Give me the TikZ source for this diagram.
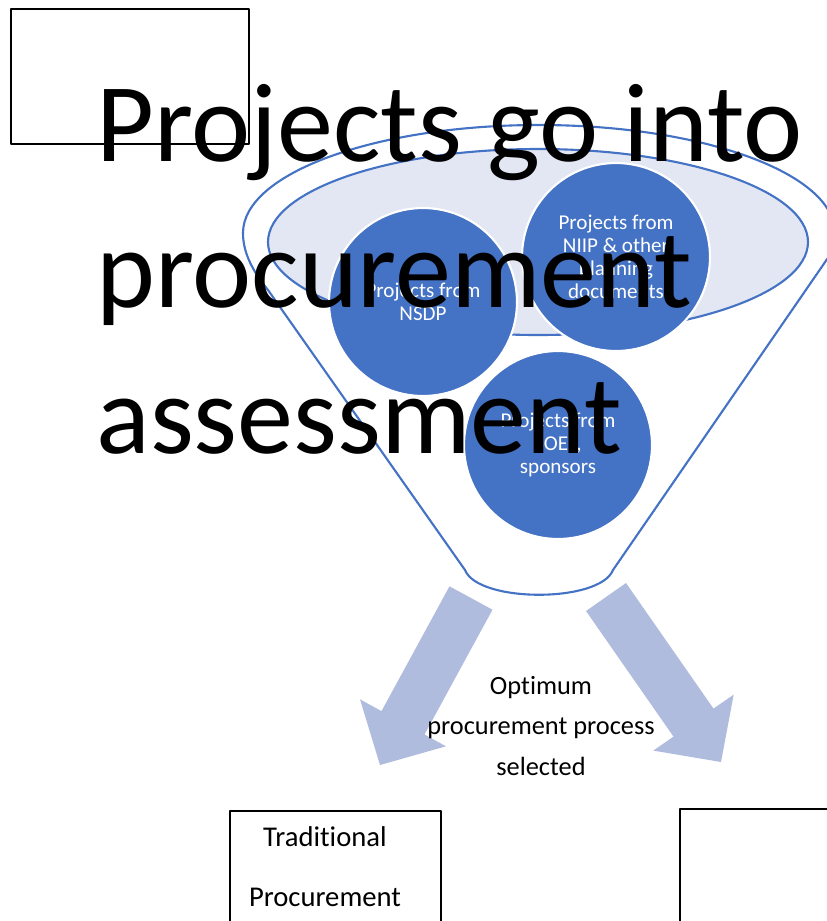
\documentclass[tikz,border=0pt]{standalone}
\usepackage{fontspec}
\setmainfont{Carlito}[Ligatures=CommonOff]
\definecolor{funnelblue}{HTML}{4472C4}
\definecolor{funnelfill}{HTML}{E3E7F3}
\definecolor{arrowfill}{HTML}{B0BCDE}
\begin{document}
\begin{tikzpicture}[x=0.02cm, y=-0.02cm, line join=round, line cap=round,
	bubble/.style={circle, fill=funnelblue, draw=white, line width=1.2pt, minimum size=3.76cm, inner sep=0pt, text=white, align=center, font=\fontsize{12}{13}\selectfont},
	plainbox/.style={draw=black, line width=0.9pt, fill=none}]
			\clip (0,0) rectangle (827,921);
			\def\rx{296}
			\def\ry{108}
			\path
			(243,233) coordinate (L)
			(268,290) coordinate (LS)
			(465,570) coordinate (SL)
			(613,570) coordinate (SR)
			(832,252) coordinate (RS)
			;
			% funnel outline
			\draw[funnelblue, line width=1.2pt] (LS) .. controls (250,268) and (243,250) .. (L)
			arc[start angle=180, end angle=360, x radius=\rx, y radius=\ry]
			.. controls (835,240) and (834,246) .. (RS) -- (SR)
			.. controls (600,603) and (478,603) .. (SL) -- cycle;
			\draw[funnelblue, line width=1.2pt, fill=funnelfill] (538,242) ellipse[x radius=270, y radius=93];
			% project sources
			\node[bubble] (nsdp) at (423,302) {Projects from\\NSDP};
			\node[bubble] (niip) at (616,257) {Projects from\\NIIP \& other\\planning\\documents};
			\node[bubble] (soe) at (558,445) {Projects from\\SOEs,\\sponsors};
			% outlets
			\fill[arrowfill] (449.5,586.3)--(492.5,609.7)--(424.5,734.5)--(446,746.3)--(380,765)--(360,699.3)--(381.5,711.1)--cycle;
			\fill[arrowfill] (586,611)--(626,583)--(713.5,708.6)--(733.7,694.6)--(721,762)--(653.3,750.6)--(673.5,736.6)--cycle;
			\node[align=center, font=\fontsize{15}{23}\selectfont] (choice) at (541,726) {Optimum\\procurement process\\selected};
			% boxes
			\draw[plainbox] (11,9) rectangle (249,144);
			\draw[plainbox] (230,811) rectangle (441,960);
			\draw[plainbox] (680,809) rectangle (900,960);
			\node[align=center, font=\fontsize{16.3}{34}\selectfont] (trad) at (325,867) {Traditional\\Procurement};
			\node[anchor=base west, inner sep=0pt, align=left, font=\fontsize{63.8}{83}\selectfont] (title) at (96,453) {Projects go into\\procurement\\assessment};
\end{tikzpicture}
\end{document}
